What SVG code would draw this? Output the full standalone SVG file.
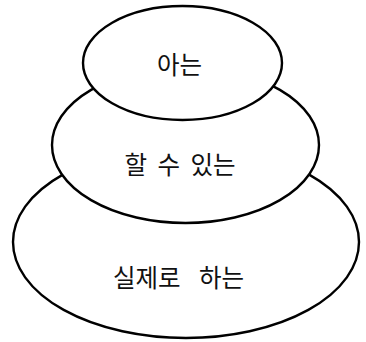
<svg xmlns="http://www.w3.org/2000/svg" width="366" height="342" viewBox="0 0 366 342">
<style>
.e{fill:#fff;stroke:#000;stroke-width:2.4}
.t{font-family:"Noto Sans CJK KR","Noto Sans",sans-serif;font-size:24.5px;fill:#111;text-anchor:middle;dominant-baseline:central}
</style>
<rect width="366" height="342" fill="#fff"/>
<g id="connectors"></g>
<g id="node-do">
<ellipse class="e" cx="186" cy="242" rx="173" ry="96"/>
<text class="t" x="178.5" y="276" word-spacing="13">실제로 하는</text>
</g>
<g id="node-can">
<ellipse class="e" cx="185.5" cy="145" rx="133.5" ry="78"/>
<text class="t" x="180" y="163.5" word-spacing="5">할 수 있는</text>
</g>
<g id="node-know">
<ellipse class="e" cx="182.5" cy="63" rx="99.5" ry="57"/>
<text class="t" x="179.5" y="63">아는</text>
</g>
</svg>
